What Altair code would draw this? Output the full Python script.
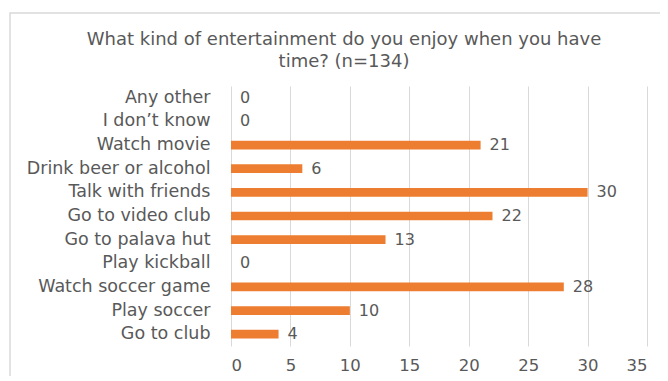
import altair as alt
import pandas as pd

categories = ["Any other", "I don\u2019t know", "Watch movie", "Drink beer or alcohol",
              "Talk with friends", "Go to video club", "Go to palava hut", "Play kickball",
              "Watch soccer game", "Play soccer", "Go to club"]
values = [0, 0, 21, 6, 30, 22, 13, 0, 28, 10, 4]
x_ticks = [0, 5, 10, 15, 20, 25, 30, 35]
title_lines = ["What kind of entertainment do you enjoy when you have", "time? (n=134)"]

df = pd.DataFrame({"category": categories, "value": values})

FONT = "DejaVu Sans"
TXT = "#595959"
BAR = "#ED7D31"

y_enc = alt.Y("category:N", sort=categories, title=None,
              scale=alt.Scale(paddingInner=0.63, paddingOuter=0.315),
              axis=alt.Axis(domain=False, ticks=False, labelPadding=21,
                            labelFontSize=17.5, labelColor=TXT, labelFont=FONT,
                            labelLimit=300, grid=False))
x_enc = alt.X("value:Q", title=None,
              scale=alt.Scale(domain=[0, 35], nice=False),
              axis=alt.Axis(values=x_ticks, domain=False, ticks=False,
                            grid=True, gridColor="#D9D9D9", gridWidth=1,
                            labelPadding=11, labelFontSize=16.5, labelColor=TXT,
                            labelFont=FONT))

bars = alt.Chart(df).mark_bar(color=BAR).encode(x=x_enc, y=y_enc)
labels = alt.Chart(df).mark_text(align="left", baseline="middle", dx=9,
                                 fontSize=16, color=TXT, font=FONT).encode(
    x="value:Q", y=alt.Y("category:N", sort=categories), text="value:Q")

border = alt.Chart(alt.Data(values=[{}])).mark_rect(
    filled=False, stroke="#D9D9D9", strokeWidth=1.5).encode(
    x=alt.value(-221), x2=alt.value(500), y=alt.value(-73), y2=alt.value(400))

title_df = pd.DataFrame({"t": ["\n".join(title_lines)]})
title = alt.Chart(title_df).mark_text(
    align="center", baseline="top", lineBreak="\n", lineHeight=22,
    fontSize=18, font=FONT, color=TXT).encode(
    x=alt.value(113), y=alt.value(-55), text="t:N")

chart = alt.layer(border, bars, labels, title).properties(
    width=416, height=260,
    autosize=alt.AutoSizeParams(type="none"),
    padding={"left": 223, "top": 78, "right": 13, "bottom": 30},
).configure_view(stroke=None)

chart.save("out.html", embed_options={"renderer": "svg", "actions": False})
